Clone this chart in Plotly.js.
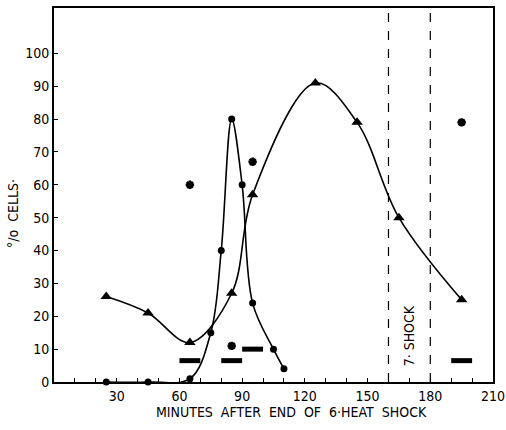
<!DOCTYPE html>
<html>
<head>
<meta charset="utf-8">
<script src="https://cdn.plot.ly/plotly-3.0.1.min.js"></script>
<style>
html,body{margin:0;padding:0;background:#fff;}
#chart{width:506px;height:430px;}
</style>
</head>
<body>
<div id="chart"></div>
<script>
// ---- data ----
const circleX = [25, 45, 65, 75, 80, 85, 90, 95, 105, 110];
const circleY = [0, 0, 1, 15, 40, 80, 60, 24, 10, 4];

const triangleX = [25, 45, 65, 85, 95, 125, 145, 165, 195];
const triangleY = [26, 21, 12, 27, 57, 91, 79, 50, 25];

const starX = [65, 85, 95, 195];
const starY = [60, 11, 67, 79];

const barStart = [60, 80, 90, 190];
const barEnd   = [70, 90, 100, 200];
const barY     = [6.5, 6.5, 10, 6.5];

const shockLines = [160, 180];
const shockLabel = "7· SHOCK";

const xTickVals = [30, 60, 90, 120, 150, 180, 210];
const xTickText = ["30", "60", "90", "120", "150", "180", "210"];
const yTickVals = [0, 10, 20, 30, 40, 50, 60, 70, 80, 90, 100];
const yTickText = ["0", "10", "20", "30", "40", "50", "60", "70", "80", "90", "100"];

const xTitle = "MINUTES  AFTER  END  OF  6·HEAT  SHOCK";
const yTitle = "°/o  CELLS·";

// ---- build traces ----
const barXs = [], barYs = [];
for (let i = 0; i < barStart.length; i++) {
  barXs.push(barStart[i], barEnd[i], null);
  barYs.push(barY[i], barY[i], null);
}

const FONT = "DejaVu Sans Condensed, DejaVu Sans, sans-serif";

const traces = [
  {
    x: circleX, y: circleY, type: "scatter", mode: "lines+markers",
    line: {shape: "spline", smoothing: 1, color: "#000", width: 1.6},
    marker: {symbol: "circle", size: 7, color: "#000"},
    cliponaxis: false, showlegend: false
  },
  {
    x: triangleX, y: triangleY, type: "scatter", mode: "lines+markers",
    line: {shape: "spline", smoothing: 1, color: "#000", width: 1.6},
    marker: {symbol: "triangle-up", size: 10, color: "#000"},
    cliponaxis: false, showlegend: false
  },
  {
    x: starX, y: starY, type: "scatter", mode: "markers",
    marker: {symbol: "asterisk-open", size: 7, color: "#000", line: {color: "#000", width: 2.6}},
    showlegend: false
  },
  {
    x: barXs, y: barYs, type: "scatter", mode: "lines",
    line: {color: "#000", width: 5},
    connectgaps: false, showlegend: false
  }
];

const shapes = shockLines.map(v => ({
  type: "line", xref: "x", yref: "paper", x0: v, x1: v, y0: 0, y1: 1,
  line: {color: "#000", width: 1.2, dash: "dash"}
}));

const layout = {
  width: 506, height: 430,
  margin: {l: 54, r: 13, t: 8, b: 48},
  paper_bgcolor: "#fff", plot_bgcolor: "#fff",
  font: {family: FONT, color: "#000", size: 14},
  xaxis: {
    range: [0, 210], showgrid: false, zeroline: false,
    showline: true, linecolor: "#000", linewidth: 2, mirror: true,
    ticks: "inside", ticklen: 4, tickcolor: "#000", tickwidth: 1,
    tickvals: xTickVals, ticktext: xTickText,
    ticklabeloverflow: "allow",
    minor: {dtick: 10, tick0: 0, ticks: "inside", ticklen: 4, tickcolor: "#000", showgrid: false},
    tickfont: {family: FONT, size: 14, color: "#000"}
  },
  yaxis: {
    range: [0, 113.8], showgrid: false, zeroline: false,
    showline: true, linecolor: "#000", linewidth: 2, mirror: true,
    ticks: "inside", ticklen: 4, tickcolor: "#000", tickwidth: 1,
    tickvals: yTickVals, ticktext: yTickText,
    tickfont: {family: FONT, size: 14, color: "#000"}
  },
  shapes: shapes,
  annotations: [
    {
      x: (shockLines[0] + shockLines[1]) / 2, y: 14, xref: "x", yref: "y",
      text: shockLabel, showarrow: false, textangle: -90,
      font: {family: FONT, size: 14, color: "#000"}
    },
    {
      x: 0.542, y: -0.08, xref: "paper", yref: "paper",
      text: xTitle, showarrow: false, xanchor: "center", yanchor: "middle",
      font: {family: FONT, size: 14, color: "#000"}
    },
    {
      x: -0.095, y: 0.45, xref: "paper", yref: "paper",
      text: yTitle, showarrow: false, textangle: -90, xanchor: "center", yanchor: "middle",
      font: {family: FONT, size: 14, color: "#000"}
    }
  ]
};

Plotly.newPlot("chart", traces, layout, {displayModeBar: false, staticPlot: true});
</script>
</body>
</html>
